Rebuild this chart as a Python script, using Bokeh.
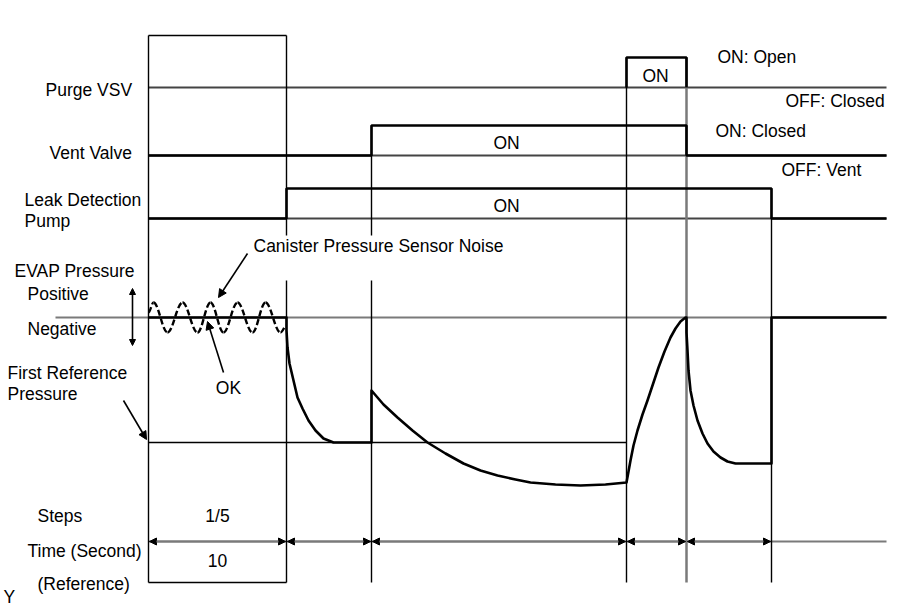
from bokeh.plotting import figure
from bokeh.models import Range1d, Arrow, NormalHead, ColumnDataSource
from bokeh.core.properties import value
from bokeh.embed import file_html
from bokeh.resources import INLINE

# ---------------- data (schematic timing diagram) ----------------
# step boundaries on the time axis and end of the trace
step_bounds = [148, 286, 371, 626, 686, 771]
time_end = 886

# channel state per interval (0 = OFF, 1 = ON)
purge_state = [0, 0, 0, 1, 0, 0]
vent_state = [0, 0, 1, 1, 0, 0]
pump_state = [0, 1, 1, 1, 1, 0]

# channel levels: [OFF, ON]
purge_levels = [87, 57]
vent_levels = [155, 125]
pump_levels = [218, 188]

# EVAP pressure levels
pressure_zero = 317
first_ref_pressure = 442

# EVAP pressure trace
press_x = [148, 286, 286, 287, 289, 293, 297, 302, 308, 315, 323, 333, 340, 371,
           371, 383, 397, 412, 427, 445, 463, 480, 497, 515, 530, 555, 580, 605, 626,
           628, 630, 633, 637, 642, 647, 652, 658, 664, 670, 675, 680, 685,
           686, 686, 687, 688, 690, 693, 697, 702, 707, 713, 720, 727, 735, 771,
           771, 886]
press_y = [317, 317, 330, 347, 363, 380, 397, 408, 420, 430, 438, 442, 442, 442,
           390, 404, 417, 430, 442, 453, 463, 470, 475, 479, 482, 484, 485, 484, 482,
           471, 460, 445, 430, 414, 400, 385, 367, 351, 337, 328, 321, 317,
           317, 332, 350, 370, 390, 405, 420, 433, 443, 451, 457, 461, 463, 463,
           317, 317]

# canister pressure sensor noise: extrema
noise_x = [148, 153, 167, 182, 197, 210, 223, 237, 252, 265, 280, 286]
noise_y = [312, 302, 332, 302, 332, 302, 332, 302, 332, 302, 332, 325]

# ---------------- figure ----------------
W, H = 900, 606
p = figure(width=W, height=H, x_range=Range1d(0, W), y_range=Range1d(H, 0),
           output_backend="svg", toolbar_location=None, x_axis_type=None, y_axis_type=None,
           min_border=0, min_border_left=0, min_border_right=0, min_border_top=0,
           min_border_bottom=0)
p.outline_line_color = None
p.background_fill_color = "white"

FONT = value("Liberation Sans")
FS = "17.5px"
GRAY = "#7a7a7a"
DARK = "#444444"

edges = step_bounds + [time_end]


def step_line(states, levels):
    xs, ys = [], []
    for i, s in enumerate(states):
        xs += [edges[i], edges[i + 1]]
        ys += [levels[s], levels[s]]
    return xs, ys


# baselines (gray reference lines)
for lv in (purge_levels[0], vent_levels[0], pump_levels[0]):
    p.line([step_bounds[0], time_end], [lv, lv], line_color=DARK, line_width=1.8)
p.line([55, time_end], [pressure_zero, pressure_zero], line_color=GRAY, line_width=2)
p.line([step_bounds[0], step_bounds[3]], [first_ref_pressure, first_ref_pressure],
       line_color="black", line_width=1.3)

# time row
TIME_Y = 541
p.line([step_bounds[0], time_end], [TIME_Y, TIME_Y], line_color=GRAY, line_width=2)
for a, b in zip(step_bounds[:-1], step_bounds[1:]):
    p.add_layout(Arrow(start=NormalHead(size=7, fill_color="black", line_color="black", line_width=1),
                       end=NormalHead(size=7, fill_color="black", line_color="black", line_width=1),
                       x_start=a + 1, y_start=TIME_Y, x_end=b - 1, y_end=TIME_Y,
                       line_color=GRAY, line_width=2))

# vertical step lines (top, gap for label)
BOTTOM = 582
v_top = [35, 35, 125, 57, 57, 188]
gap = (235, 280)
for i, (x, t) in enumerate(zip(step_bounds, v_top)):
    col = GRAY if i == 4 else "black"
    lw = 2.5 if i == 4 else 1.4
    if i in (1, 2):
        p.line([x, x], [t, gap[0]], line_color=col, line_width=lw)
        p.line([x, x], [gap[1], BOTTOM], line_color=col, line_width=lw)
    else:
        p.line([x, x], [t, BOTTOM], line_color=col, line_width=lw)

# first step box
p.line([step_bounds[0], step_bounds[1]], [35, 35], line_color="black", line_width=1.4)
p.line([step_bounds[0], step_bounds[1]], [BOTTOM, BOTTOM], line_color="black", line_width=1.4)

# channel signals
xs, ys = step_line(vent_state, vent_levels)
p.line(xs, ys, line_color="black", line_width=2.6)
xs, ys = step_line(pump_state, pump_levels)
p.line(xs, ys, line_color="black", line_width=2.6)
on_idx = [i for i, s in enumerate(purge_state) if s == 1]
for i in on_idx:
    p.line([edges[i], edges[i], edges[i + 1], edges[i + 1]],
           [purge_levels[0], purge_levels[1], purge_levels[1], purge_levels[0]],
           line_color="black", line_width=2.6)

# pressure trace
p.line(press_x, press_y, line_color="black", line_width=2.6, line_join="round")

# noise (dashed, cubic bezier between extrema)
k = 0.3634
nx0, ny0, nx1, ny1, cx0, cy0, cx1, cy1 = [], [], [], [], [], [], [], []
for (xa, ya), (xb, yb) in zip(zip(noise_x[:-1], noise_y[:-1]), zip(noise_x[1:], noise_y[1:])):
    nx0.append(xa); ny0.append(ya); nx1.append(xb); ny1.append(yb)
    cx0.append(xa + k * (xb - xa)); cy0.append(ya)
    cx1.append(xb - k * (xb - xa)); cy1.append(yb)
p.bezier(x0=nx0, y0=ny0, x1=nx1, y1=ny1, cx0=cx0, cy0=cy0, cx1=cx1, cy1=cy1,
         line_color="black", line_width=2.4, line_dash="6 3")


# annotation arrows
def arrow(x0, y0, x1, y1, size=8, both=False):
    head = NormalHead(size=size, fill_color="black", line_color="black", line_width=1)
    kw = dict(end=head, x_start=x0, y_start=y0, x_end=x1, y_end=y1,
              line_color="black", line_width=1.6)
    if both:
        kw["start"] = NormalHead(size=size, fill_color="black", line_color="black", line_width=1)
    else:
        kw["start"] = None
    p.add_layout(Arrow(**kw))


arrow(247, 253, 218, 297)
arrow(223, 372, 207, 321)
arrow(123, 400, 146, 439)
arrow(132, 288, 132, 345, size=6, both=True)

# texts
left_labels = dict(
    x=[45, 49, 24, 24, 14, 27, 27, 7, 7, 253, 37, 27, 37, 3, 717, 785, 715, 781],
    y=[89, 152, 199, 220, 270, 293, 328, 372, 393, 245, 515, 550, 583, 596, 56, 100, 130, 169],
    text=["Purge VSV", "Vent Valve", "Leak Detection", "Pump", "EVAP Pressure",
          "Positive", "Negative", "First Reference", "Pressure",
          "Canister Pressure Sensor Noise", "Steps", "Time (Second)", "(Reference)", "Y",
          "ON: Open", "OFF: Closed", "ON: Closed", "OFF: Vent"],
)
p.text(x="x", y="y", text="text", source=ColumnDataSource(left_labels),
       text_font=FONT, text_font_size=FS, text_align="left", text_baseline="middle",
       text_color="black")
center_labels = dict(
    x=[655, 506, 506, 228, 217, 217],
    y=[75, 142, 205, 387, 515, 560],
    text=["ON", "ON", "ON", "OK", "1/5", "10"],
)
p.text(x="x", y="y", text="text", source=ColumnDataSource(center_labels),
       text_font=FONT, text_font_size=FS, text_align="center", text_baseline="middle",
       text_color="black")

open("out.html", "w").write(file_html(p, INLINE))
